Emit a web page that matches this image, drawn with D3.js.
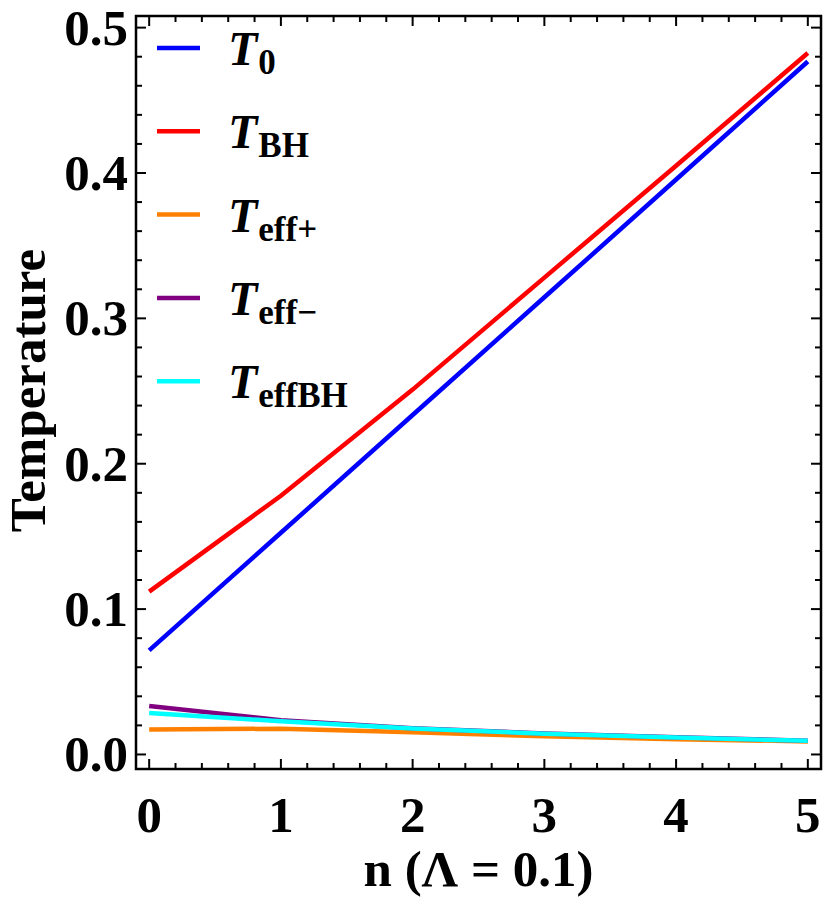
<!DOCTYPE html>
<html>
<head>
<meta charset="utf-8">
<script src="https://cdn.jsdelivr.net/npm/d3@7"></script>
<style>
  body { margin: 0; background: #fff; }
  text { font-family: "Liberation Serif", "Times New Roman", serif; font-weight: bold; }
</style>
</head>
<body>
<svg id="chart" width="825" height="903"></svg>
<script>
// data (n = 0..5, Lambda = 0.1)
var nValues = [0, 1, 2, 3, 4, 5];
var T0      = [0.0716, 0.1525, 0.2335, 0.3145, 0.3955, 0.4767];
var TBH     = [0.112, 0.178, 0.251, 0.328, 0.405, 0.4825];
var TeffP   = [0.0172, 0.0177, 0.0152, 0.0125, 0.0105, 0.0090];
var TeffM   = [0.0334, 0.0235, 0.0180, 0.0145, 0.0118, 0.0095];
var TeffBH  = [0.0286, 0.0228, 0.0178, 0.0143, 0.0117, 0.0094];
var xTicks = [0, 1, 2, 3, 4, 5];
var yTicks = [0.0, 0.1, 0.2, 0.3, 0.4, 0.5];

var series = [
    {main: "T", sub: "0",     values: T0,     color: "#0000ff"},
    {main: "T", sub: "BH",    values: TBH,    color: "#ff0000"},
    {main: "T", sub: "eff+",  values: TeffP,  color: "#ff8000"},
    {main: "T", sub: "eff\u2212", values: TeffM, color: "#800080"},
    {main: "T", sub: "effBH", values: TeffBH, color: "#00ffff"}
];

var svg = d3.select("#chart");
var box = {left: 136, top: 16, right: 821, bottom: 769};

var x = d3.scaleLinear().domain([-0.1, 5.1]).range([box.left, box.right]);
var y = d3.scaleLinear().domain([-0.01, 0.508]).range([box.bottom, box.top]);

var frame = svg.append("g");

// minor + major ticks on all four sides, pointing inward
var xMinor = d3.range(0, 5.001, 0.2);
var yMinor = d3.range(0, 0.5001, 0.02);
var isMajorX = function(v){ return Math.abs(v - Math.round(v)) < 1e-6; };
var isMajorY = function(v){ return Math.abs(v*10 - Math.round(v*10)) < 1e-6; };

xMinor.forEach(function(v){
    var len = isMajorX(v) ? 10 : 6;
    frame.append("line").attr("x1", x(v)).attr("x2", x(v)).attr("y1", box.bottom).attr("y2", box.bottom - len)
        .attr("stroke", "#000").attr("stroke-width", 2);
    frame.append("line").attr("x1", x(v)).attr("x2", x(v)).attr("y1", box.top).attr("y2", box.top + len)
        .attr("stroke", "#000").attr("stroke-width", 2);
});
yMinor.forEach(function(v){
    var len = isMajorY(v) ? 10 : 6;
    frame.append("line").attr("x1", box.left).attr("x2", box.left + len).attr("y1", y(v)).attr("y2", y(v))
        .attr("stroke", "#000").attr("stroke-width", 2);
    frame.append("line").attr("x1", box.right).attr("x2", box.right - len).attr("y1", y(v)).attr("y2", y(v))
        .attr("stroke", "#000").attr("stroke-width", 2);
});

frame.append("rect")
    .attr("x", box.left).attr("y", box.top)
    .attr("width", box.right - box.left).attr("height", box.bottom - box.top)
    .attr("fill", "none").attr("stroke", "#000").attr("stroke-width", 2.5);

// tick labels
svg.selectAll(".xlab").data(xTicks).enter().append("text")
    .attr("class", "xlab")
    .attr("x", function(d){ return x(d); })
    .attr("y", 832)
    .attr("text-anchor", "middle")
    .attr("font-size", 51)
    .text(function(d){ return d; });

svg.selectAll(".ylab").data(yTicks).enter().append("text")
    .attr("class", "ylab")
    .attr("x", 128)
    .attr("y", function(d){ return y(d) + 17; })
    .attr("text-anchor", "end")
    .attr("font-size", 51)
    .text(function(d){ return d.toFixed(1); });

// axis titles
svg.append("text")
    .attr("x", (box.left + box.right) / 2)
    .attr("y", 886)
    .attr("text-anchor", "middle")
    .attr("font-size", 51)
    .text("n (\u039b = 0.1)");

svg.append("text")
    .attr("transform", "translate(45," + ((box.top + box.bottom) / 2 - 2) + ") rotate(-90)")
    .attr("text-anchor", "middle")
    .attr("font-size", 51)
    .text("Temperature");

// lines
var line = d3.line()
    .x(function(d, i){ return x(nValues[i]); })
    .y(function(d){ return y(d); });

svg.append("g").selectAll("path").data(series).enter().append("path")
    .attr("d", function(s){ return line(s.values); })
    .attr("fill", "none")
    .attr("stroke", function(s){ return s.color; })
    .attr("stroke-width", 4.5);

// legend
var legend = svg.append("g").selectAll("g").data(series).enter().append("g")
    .attr("transform", function(d, i){ return "translate(0," + (48 + i * 83.3) + ")"; });

legend.append("line")
    .attr("x1", 157).attr("x2", 200).attr("y1", 0).attr("y2", 0)
    .attr("stroke", function(d){ return d.color; })
    .attr("stroke-width", 4.5);

var lt = legend.append("text").attr("x", 228).attr("y", 17);
lt.append("tspan")
    .attr("font-size", 48)
    .attr("font-style", "italic")
    .text(function(d){ return d.main; });
lt.append("tspan")
    .attr("font-size", 35)
    .attr("dx", 1)
    .attr("dy", 9)
    .text(function(d){ return d.sub; });
</script>
</body>
</html>
